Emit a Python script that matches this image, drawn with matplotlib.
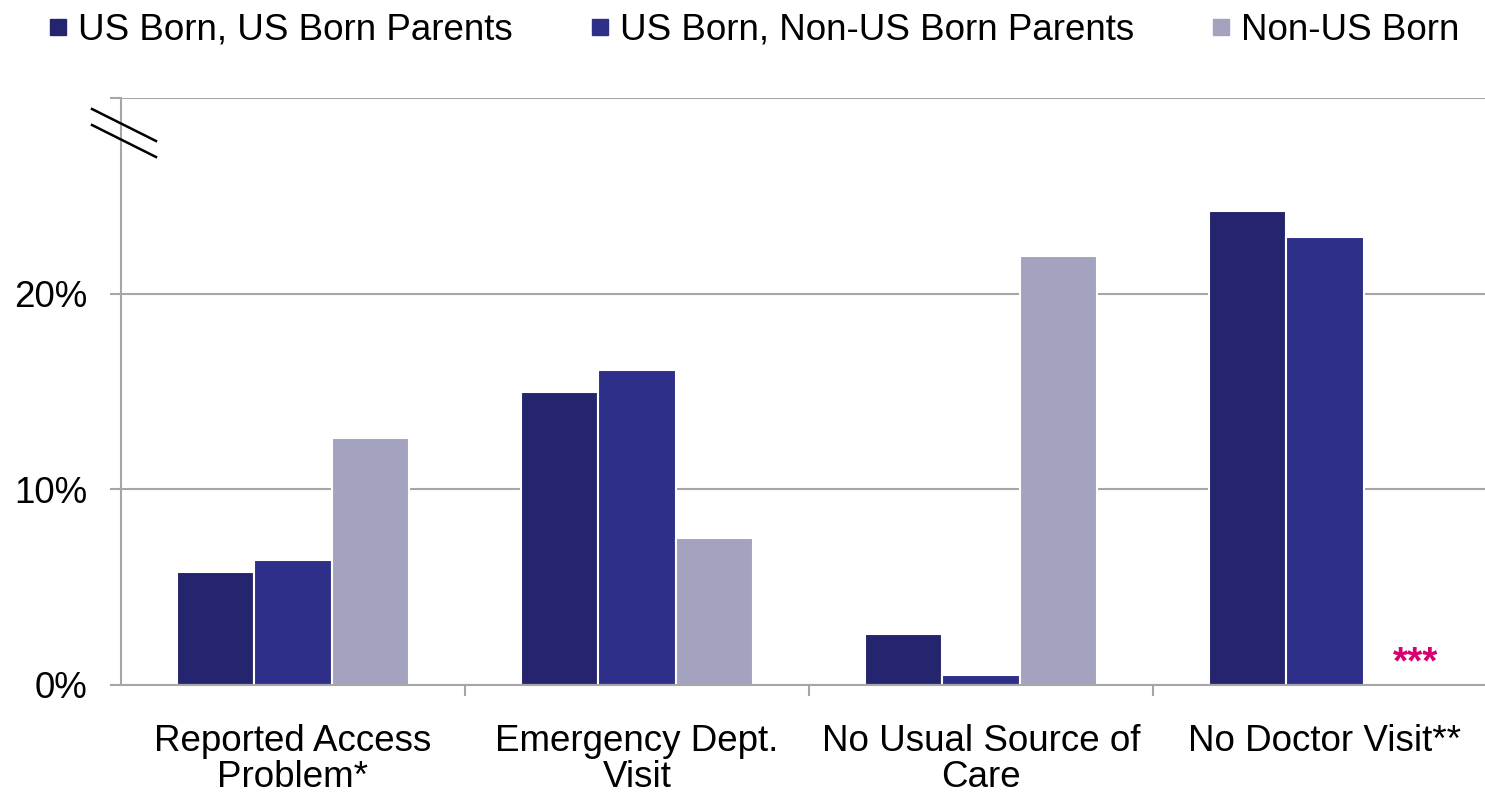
import matplotlib
matplotlib.use("Agg")
import matplotlib.pyplot as plt
from matplotlib.lines import Line2D
import numpy as np

plt.rcParams['font.family'] = ['Liberation Sans', 'DejaVu Sans']

categories = ["Reported Access\nProblem*", "Emergency Dept.\nVisit",
              "No Usual Source of\nCare", "No Doctor Visit**"]
series_names = ["US Born, US Born Parents", "US Born, Non-US Born Parents", "Non-US Born"]
us_born_us_parents = [5.8, 15.0, 2.6, 24.2]
us_born_non_us_parents = [6.4, 16.1, 0.5, 22.9]
non_us_born = [12.6, 7.5, 21.9, np.nan]
colors = ["#24246F", "#2E2F88", "#A3A3BF"]
y_ticks = [0, 10, 20, 30]
y_labels = ["0%", "10%", "20%", ""]
grid_col = "#A6A6A6"

W, H = 1485, 796
fig = plt.figure(figsize=(W / 100, H / 100), dpi=100)
ax = fig.add_axes([121 / W, (H - 685) / H, (1497 - 121) / W, (685 - 98) / H])

x = np.arange(len(categories))
bw = 0.224
all_vals = [us_born_us_parents, us_born_non_us_parents, non_us_born]
for i, (vals, col) in enumerate(zip(all_vals, colors)):
    ax.bar(x + (i - 1) * bw, vals, width=bw, color=col, edgecolor="white",
           linewidth=1.5, zorder=3)

# missing value marker
ax.text(x[3] + bw + 0.04, 0.2, "***", color="#D6006F", ha="center", va="bottom",
        fontsize=28, fontweight="bold", zorder=4)

ax.set_xlim(-0.5, 3.5)
ax.set_ylim(0, 30)
ax.set_yticks(y_ticks)
ax.set_yticklabels(y_labels)
ax.yaxis.grid(True, color=grid_col, linewidth=1.5, zorder=0)
ax.tick_params(axis="y", length=8, width=1.5, color=grid_col, pad=16, labelsize=26.5)

ax.set_xticks(x)
ax.set_xticklabels(categories, fontsize=26.5, linespacing=1.05, va="top")
ax.set_xticks(x[:-1] + 0.5, minor=True)
ax.tick_params(axis="x", which="major", length=0, pad=28)
ax.tick_params(axis="x", which="minor", length=8, width=1.5, color=grid_col, direction="out")

for s in ["top", "right"]:
    ax.spines[s].set_visible(False)
for s in ["left", "bottom"]:
    ax.spines[s].set_color(grid_col)
    ax.spines[s].set_linewidth(1.5)
ax.spines["bottom"].set_zorder(5)

# axis break mark
for dy in (0, 16):
    fig.add_artist(Line2D([92 / W, 156 / W], [1 - (109 + dy) / H, 1 - (141 + dy) / H],
                          color="black", linewidth=1.8))

handles = [Line2D([], [], marker="s", linestyle="none", markersize=12,
                  markerfacecolor=c, markeredgecolor=c) for c in colors]
fig.legend(handles, series_names, loc="center", bbox_to_anchor=(754 / W, 1 - 30 / H),
           ncol=3, frameon=False, fontsize=26.5, handlelength=0.5,
           handletextpad=0.3, columnspacing=2.1, borderpad=0)

fig.savefig("out.png", dpi=100)
